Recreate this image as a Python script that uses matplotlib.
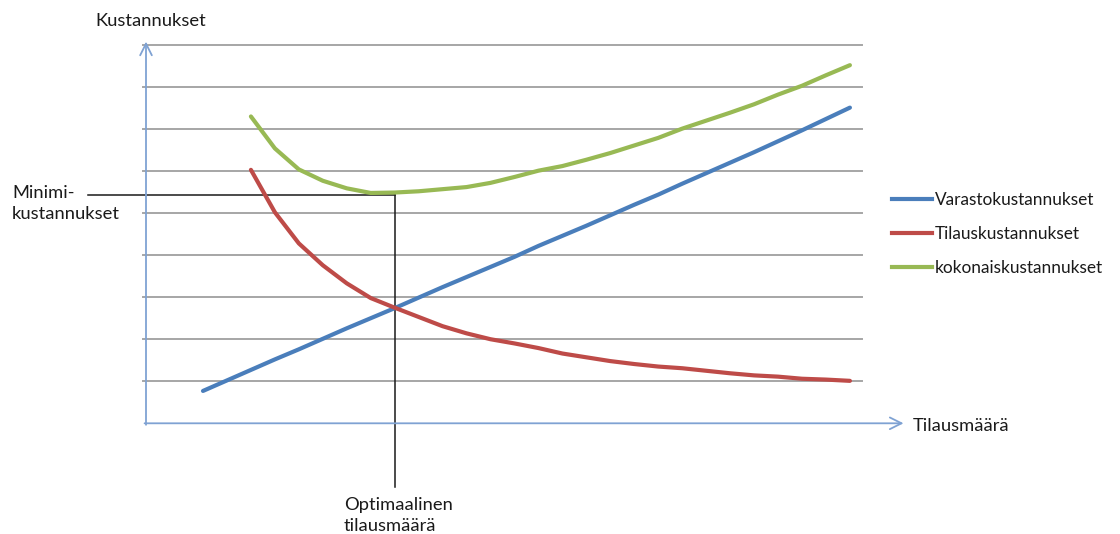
import matplotlib
matplotlib.use("Agg")
import matplotlib.pyplot as plt
from matplotlib.lines import Line2D

plt.rcParams['font.family'] = ['Lato', 'DejaVu Sans']

# Order quantity steps (category positions) and cost series
steps = list(range(28))
storage_cost = [0.77, 1.02, 1.27, 1.52, 1.76, 2.01, 2.26, 2.50, 2.74, 2.99,
                3.24, 3.48, 3.72, 3.96, 4.22, 4.46, 4.70, 4.95, 5.20, 5.44,
                5.70, 5.95, 6.20, 6.45, 6.71, 6.97, 7.24, 7.51]
order_steps = list(range(2, 28))
order_cost = [6.03, 5.02, 4.28, 3.76, 3.33, 2.98, 2.75, 2.53, 2.31, 2.14,
              2.00, 1.90, 1.79, 1.66, 1.57, 1.48, 1.41, 1.35, 1.31, 1.25,
              1.19, 1.14, 1.11, 1.06, 1.04, 1.01]
total_cost = [7.30, 6.54, 6.04, 5.77, 5.59, 5.48, 5.49, 5.52, 5.57, 5.62,
              5.72, 5.86, 6.01, 6.12, 6.27, 6.43, 6.61, 6.79, 7.01, 7.20,
              7.39, 7.59, 7.82, 8.03, 8.28, 8.52]
labels = ['Varastokustannukset', 'Tilauskustannukset', 'kokonaiskustannukset']
colors = ['#4A7EBB', '#BE4B48', '#98B954']

opt_step = 8
min_cost = 5.42

W, H = 1120, 534
fig = plt.figure(figsize=(W / 100, H / 100), dpi=100)

# plot area: x axis at y=423px, top gridline at y=45px
left, right, base, top = 146, 862, 423.3, 45
ax = fig.add_axes([left / W, (H - base) / H, (right - left) / W, (base - top) / H])
ax.set_xlim((left - 203) / 23.96, (right - 203) / 23.96)
ax.set_ylim(0, 9)
for s in ax.spines.values():
    s.set_visible(False)
ax.set_xticks([])
ax.set_yticks([])
ax.patch.set_alpha(0)

for g in range(1, 10):
    ax.axhline(g, xmin=-0.004, xmax=1, color='#A6A6A6', lw=1.4, zorder=1, clip_on=False)

# axes with open arrow heads
axis_col = '#7FA2D3'
ax.annotate('', xy=(0, 1.009), xytext=(0, -0.004), xycoords='axes fraction',
            arrowprops=dict(arrowstyle='->,head_length=0.7,head_width=0.35',
                            color=axis_col, lw=1.3, mutation_scale=12, shrinkA=0, shrinkB=0))
ax.annotate('', xy=(1.058, 0), xytext=(-0.002, 0), xycoords='axes fraction',
            arrowprops=dict(arrowstyle='->,head_length=0.7,head_width=0.35',
                            color=axis_col, lw=1.3, mutation_scale=12, shrinkA=0, shrinkB=0))

# optimum markers
ax.plot([(88 - 203) / 23.96, opt_step], [min_cost, min_cost], color='#1a1a1a', lw=1.1,
        clip_on=False, zorder=2)
ax.plot([opt_step, opt_step], [min_cost, (base - 487) / 42.1], color='#1a1a1a', lw=1.1,
        clip_on=False, zorder=2)

ax.plot(steps, storage_cost, color=colors[0], lw=3, solid_capstyle='round', zorder=3)
ax.plot(order_steps, order_cost, color=colors[1], lw=3, solid_capstyle='round', zorder=3)
ax.plot(order_steps, total_cost, color=colors[2], lw=3, solid_capstyle='round', zorder=3)

handles = [Line2D([], [], color=c, lw=3) for c in colors]
fig.legend(handles, labels, loc='center left', bbox_to_anchor=(892 / W, 1 - 234 / H),
           frameon=False, fontsize=12.4, handlelength=2.35, handletextpad=0.15,
           labelspacing=1.05, borderpad=0, borderaxespad=0, labelcolor='#1a1a1a')

tc = '#1a1a1a'
fs = 13.2


def put(x, y, s, ha='left'):
    fig.text(x / W, 1 - y / H, s, ha=ha, va='center', fontsize=fs, color=tc)


put(95, 21, 'Kustannukset')
put(913, 426, 'Tilausmäärä')
put(12, 193, 'Minimi-')
put(12, 214, 'kustannukset')
put(344, 505, 'Optimaalinen')
put(344, 526, 'tilausmäärä')

fig.savefig('out.png', dpi=100)
